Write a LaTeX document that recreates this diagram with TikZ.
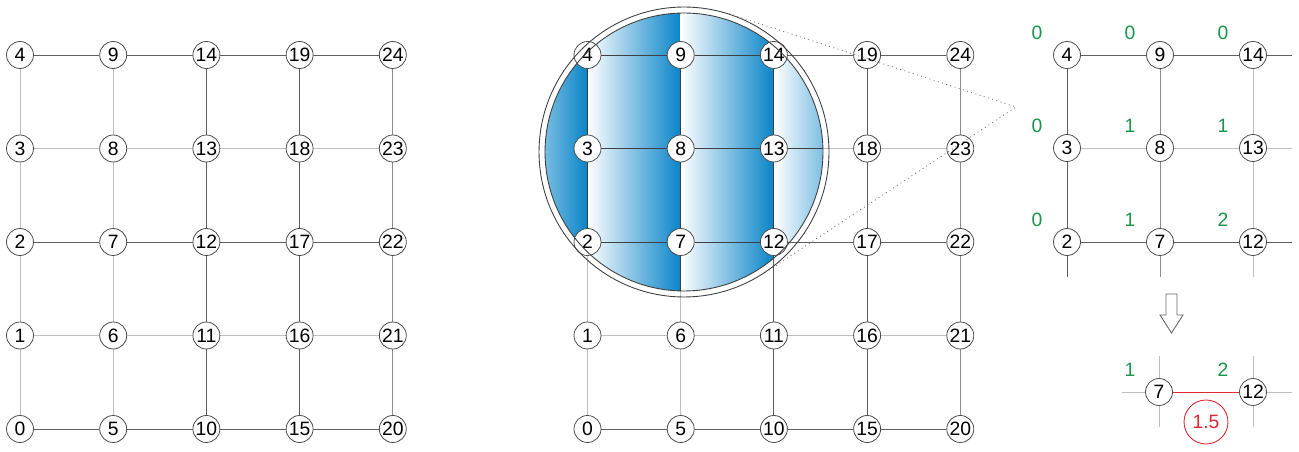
\documentclass[tikz,border=0pt]{standalone}
\usepackage{fontspec}
\setmainfont{Liberation Sans}
\usetikzlibrary{calc}

\pgfdeclarelayer{edges}
\pgfdeclarelayer{lens}
\pgfdeclarelayer{front}
\pgfsetlayers{edges,lens,main,front}

\definecolor{edgeDark}{RGB}{95,95,95}
\definecolor{edgeMid}{RGB}{140,140,140}
\definecolor{edgeLight}{RGB}{192,192,192}
\definecolor{lensBlue}{RGB}{8,132,200}
\definecolor{costGreen}{RGB}{25,150,75}
\definecolor{wRed}{RGB}{222,40,50}

\begin{document}
\begin{tikzpicture}
[x=0.02cm, y=-0.02cm, font=\fontsize{11}{12}\selectfont,
 vertex/.style = {draw=black!70, circle, fill=white, inner sep=0pt, minimum size=0.54cm, line width=0.45pt},
 edge/.style = {line width=0.55pt},
 cost/.style = {text=costGreen, inner sep=1pt},]

\useasboundingbox (0,0) rectangle (1299,452);

\def\dx{93.2}
\def\dy{93.5}

% the two 5x5 grids
\foreach \g/\x in {L/20, M/587.5}
  \foreach \i in {0,...,4}
    \foreach \j in {0,...,4}{
      \pgfmathtruncatemacro\n{5*\i+\j}
      \node[vertex] (\g\n) at (\x+\i*\dx, 429-\j*\dy) {\n};
    }

\begin{pgfonlayer}{edges}
\foreach \g in {L,M}{
  \foreach \i in {0,...,3}
    \foreach \j/\c in {0/edgeDark,1/edgeLight,2/edgeDark,3/edgeLight,4/edgeDark}{
      \pgfmathtruncatemacro\a{5*\i+\j}
      \pgfmathtruncatemacro\b{5*\i+\j+5}
      \draw[edge,\c] (\g\a) -- (\g\b);
    }
  \foreach \i/\c in {0/edgeLight,1/edgeLight,2/edgeDark,3/edgeDark,4/edgeMid}
    \foreach \j in {0,...,3}{
      \pgfmathtruncatemacro\a{5*\i+\j}
      \pgfmathtruncatemacro\b{5*\i+\j+1}
      \draw[edge,\c] (\g\a) -- (\g\b);
    }
}
\end{pgfonlayer}

% magnifier over the middle grid
\coordinate (lc) at (684,152);
\coordinate (apex) at (1016,107);
\begin{pgfonlayer}{lens}
\begin{scope}
  \clip (lc) circle (2.78cm);
  \foreach \s in {-1,...,2}
    \shade[left color=white, right color=lensBlue] (587.5+\s*\dx, 0) rectangle (587.5+\s*\dx+\dx, 452);
  \foreach \i in {0,...,3}
    \foreach \j in {0,...,4}{
      \pgfmathtruncatemacro\a{5*\i+\j}
      \pgfmathtruncatemacro\b{5*\i+\j+5}
      \draw[edge,black!75] (M\a) -- (M\b);
    }
  \foreach \i in {0,...,4}
    \foreach \j in {0,...,3}{
      \pgfmathtruncatemacro\a{5*\i+\j}
      \pgfmathtruncatemacro\b{5*\i+\j+1}
      \draw[edge,black!75] (M\a) -- (M\b);
    }
\end{scope}
\end{pgfonlayer}
\begin{pgfonlayer}{front}
  \node[draw=black!75, circle, inner sep=0pt, minimum size=5.8cm, line width=0.5pt] (lens) at (lc) {};
  \draw[black!75, line width=0.5pt] (lc) circle (2.78cm);
  \draw[black!55, dotted, line width=0.5pt] (tangent cs:node=lens, point={(apex)}, solution=1)
    -- (apex) -- (tangent cs:node=lens, point={(apex)}, solution=2);
\end{pgfonlayer}

% zoomed part with costs
\foreach \i/\x in {0/1067, 1/1160, 2/1253}
  \foreach \j/\y in {2/242, 3/148, 4/55}{
    \pgfmathtruncatemacro\n{5*\i+\j}
    \node[vertex] (R\n) at (\x,\y) {\n};
  }
\foreach \n/\v in {4/0, 9/0, 14/0, 3/0, 8/1, 13/1, 2/0, 7/1, 12/2}
  \node[cost] (c\n) at ($(R\n)+(-30,-22)$) {\v};

\draw[edge,edgeDark] (R4) -- (R9) -- (R14) -- +(39,0);
\draw[edge,edgeLight] (R3) -- (R8) -- (R13) -- +(39,0);
\draw[edge,edgeDark] (R2) -- (R7) -- (R12) -- +(39,0);
\draw[edge,edgeDark] (R4) -- (R3) -- (R2) -- +(0,35);
\draw[edge,edgeMid] (R9) -- (R8) -- (R7) -- +(0,35);
\draw[edge,edgeLight] (R14) -- (R13) -- (R12) -- +(0,35);

\draw[black!60, fill=white, line width=0.5pt] (1166,294) -- (1177,294) -- (1177,315) -- (1183,315)
  -- (1171.5,333) -- (1160,315) -- (1166,315) -- cycle;

% edge weight
\node[vertex] (B7) at (1159,392) {7};
\node[vertex] (B12) at (1253,392) {12};
\node[cost] (b7) at ($(B7)+(-29,-22)$) {1};
\node[cost] (b12) at ($(B12)+(-30,-22)$) {2};
\draw[edge,edgeLight] (B7) -- +(-37,0) (B7) -- +(0,-36) (B7) -- +(0,35);
\draw[edge,edgeLight] (B12) -- +(39,0) (B12) -- +(0,-36) (B12) -- +(0,35);
\draw[wRed, line width=0.5pt] (B7) -- (B12);
\node[draw=wRed, text=wRed, circle, inner sep=0pt, minimum size=0.88cm, line width=0.5pt] (w) at (1206,422) {1.5};

\end{tikzpicture}
\end{document}
